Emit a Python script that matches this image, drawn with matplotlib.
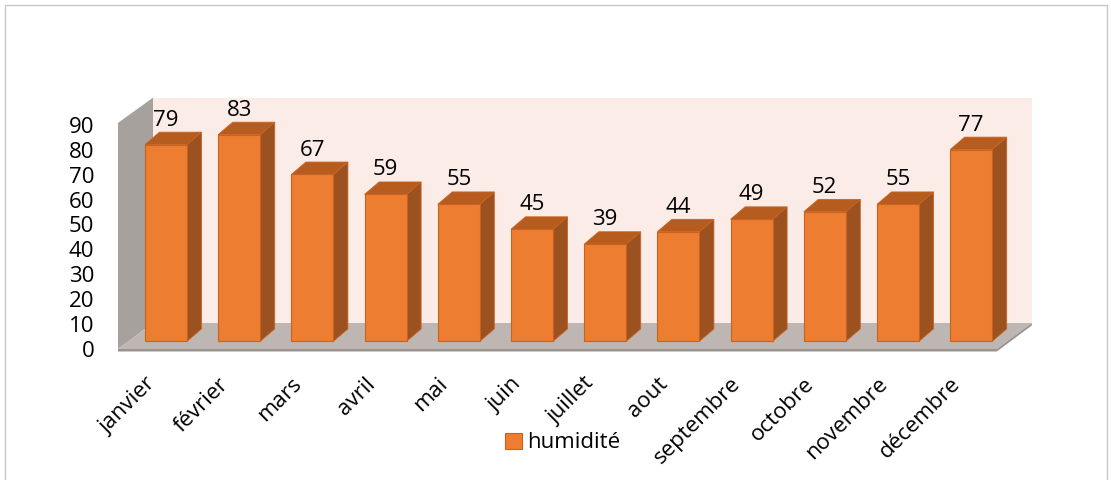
import matplotlib
matplotlib.use('Agg')
import matplotlib.pyplot as plt
from matplotlib.patches import Polygon, Rectangle

# ----------------------------------------------------------------------------
# Data
# ----------------------------------------------------------------------------
mois = ['janvier', 'février', 'mars', 'avril', 'mai', 'juin', 'juillet',
        'aout', 'septembre', 'octobre', 'novembre', 'décembre']
humidite = [79, 83, 67, 59, 55, 45, 39, 44, 49, 52, 55, 77]
y_ticks = [0, 10, 20, 30, 40, 50, 60, 70, 80, 90]
serie = 'humidité'

# ----------------------------------------------------------------------------
# Style
# ----------------------------------------------------------------------------
plt.rcParams['font.family'] = ['Open Sans', 'DejaVu Sans']
FS = 16
c_front = '#ED7D31'
c_edge = '#C8631F'
c_side = '#9B5120'
c_top = '#B65C1E'
c_back = '#FCECE8'
c_wall = '#A7A19D'
c_floor = '#BEB6B2'
c_floor_edge = '#98938F'

W, H = 1111, 480
fig = plt.figure(figsize=(W / 100, H / 100), dpi=100)

# axes: left edge on the wall front, bottom on the floor front edge
ax = fig.add_axes([118 / W, (H - 349) / H, (W - 118) / W, 349 / H])
px_cat = 73.2      # pixels per category
px_val = 2.49      # pixels per unit
ax.set_xlim((118 - 166) / px_cat, (W - 166) / px_cat)
ax.set_ylim(0, 349 / px_val)

# depth of the whole chart box and of one bar (data units)
box_dx, box_dy = 35 / px_cat, 26 / px_val
bar_dx, bar_dy = 14.5 / px_cat, 12.4 / px_val
bar_w = 42 / px_cat
bar_base = 3.1     # bars stand in the middle of the floor depth

x0 = ax.get_xlim()[0]
x1 = 11.35

# back wall
ax.add_patch(Rectangle((x0 + box_dx, box_dy), x1 - x0, 100.8 - box_dy,
                       facecolor=c_back, edgecolor='none', zorder=0))
# left wall
ax.add_patch(Polygon([(x0, 0), (x0, 90.8), (x0 + box_dx, 90.8 + box_dy * 0.97),
                      (x0 + box_dx, box_dy)],
                     facecolor=c_wall, edgecolor='none', zorder=1, clip_on=False))
# floor
ax.add_patch(Polygon([(x0, 0), (x1, 0), (x1 + box_dx, box_dy), (x0 + box_dx, box_dy)],
                     facecolor=c_floor, edgecolor='none', zorder=1, clip_on=False))
ax.add_patch(Polygon([(x0, 0), (x1, 0), (x1 + box_dx, box_dy),
                      (x1 + box_dx, box_dy - 1.0), (x1, -1.0), (x0, -1.0)],
                     facecolor=c_floor_edge, edgecolor='none', zorder=1, clip_on=False))

# bars: front face through ax.bar, side and top faces from the same values
xs = list(range(len(mois)))
bars = ax.bar(xs, humidite, width=bar_w, bottom=bar_base, color=c_front,
              edgecolor=c_edge, linewidth=0.8, zorder=3, label=serie)
for x, v in zip(xs, humidite):
    r = x + bar_w / 2
    l = x - bar_w / 2
    t = bar_base + v
    ax.add_patch(Polygon([(r, bar_base), (r + bar_dx, bar_base + bar_dy),
                          (r + bar_dx, t + bar_dy), (r, t)],
                         facecolor=c_side, edgecolor=c_edge, linewidth=0.6, zorder=2))
    ax.add_patch(Polygon([(l, t), (r, t), (r + bar_dx, t + bar_dy), (l + bar_dx, t + bar_dy)],
                         facecolor=c_top, edgecolor=c_edge, linewidth=0.6, zorder=2))
    ax.text(x, t + bar_dy + 2.6, str(v), ha='center', va='baseline',
            fontsize=FS, color='black', zorder=5)

# axes decorations
for s in ax.spines.values():
    s.set_visible(False)
ax.set_yticks(y_ticks)
ax.set_yticklabels([str(t) for t in y_ticks], fontsize=FS)
ax.tick_params(axis='y', length=0, pad=17)
ax.set_xticks([x - 0.19 for x in xs])
ax.set_xticklabels(mois, fontsize=FS, rotation=45, ha='right', va='center',
                   rotation_mode='anchor')
ax.tick_params(axis='x', length=0, pad=23)
ax.patch.set_visible(False)

fig.legend(handles=[bars], labels=[serie], loc='center left',
           bbox_to_anchor=(505 / W, 1 - 443 / H), frameon=False, fontsize=FS,
           handlelength=0.75, handleheight=0.75, handletextpad=0.25,
           borderpad=0, borderaxespad=0)

# outer chart border
fig.patches.append(Rectangle((5 / W, -0.01), (1107 - 5) / W, 1.01 - 5 / H,
                             transform=fig.transFigure, facecolor='none',
                             edgecolor='#C8C8C8', linewidth=1.0))

fig.savefig('out.png', dpi=100)
